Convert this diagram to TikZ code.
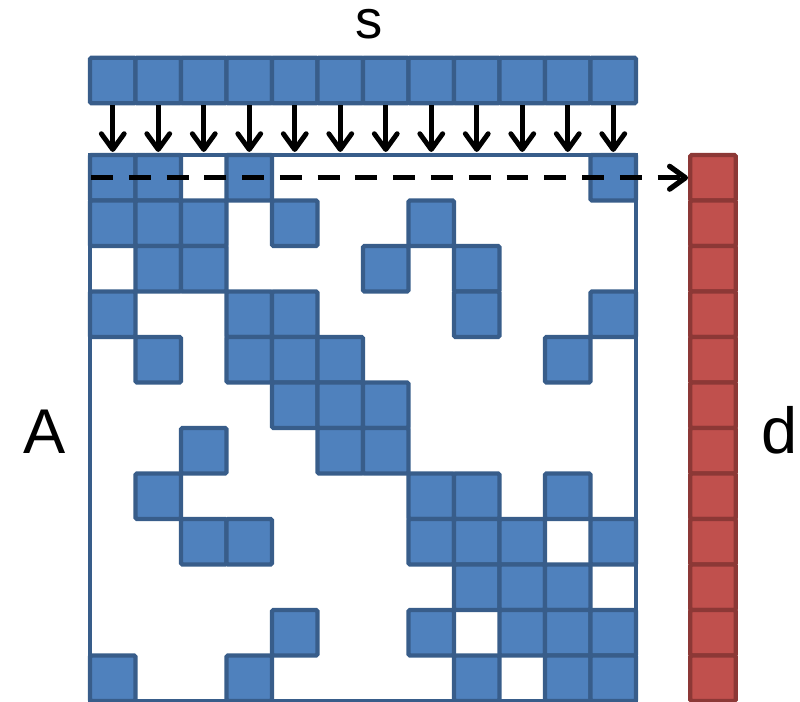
\documentclass[tikz,border=0pt]{standalone}
\usepackage{fontspec}
\setmainfont{Liberation Sans}
\usepackage{tikz}
\usetikzlibrary{positioning,arrows.meta}

\definecolor{cellblue}{HTML}{4F81BD}
\definecolor{lineblue}{HTML}{385D8A}
\definecolor{cellred}{HTML}{C0504D}
\definecolor{linered}{HTML}{8C3836}

\begin{document}
\begin{tikzpicture}[
    x=0.02cm, y=-0.02cm,
    cell/.style={rectangle, draw=lineblue, fill=cellblue, line width=2.5pt, minimum size=0.91cm, inner sep=0pt, rounded corners=0.8pt},
    dcell/.style={cell, draw=linered, fill=cellred},
    frame/.style={rectangle, draw=lineblue, line width=2.2pt, minimum size=10.92cm, inner sep=0pt},
    letter/.style={inner sep=0pt, anchor=base, font=\fontsize{36}{40}\selectfont},
    arrow/.style={-{Straight Barb[length=9pt, width=13pt, round]}, line width=2.8pt},
    dasharrow/.style={arrow, line width=3pt, dash pattern=on 12.5pt off 9pt}
]
\useasboundingbox (0,0) rectangle (800,702);

% sparse matrix A
\node[frame] (A) at (363,428) {};
\foreach \r/\cols in {0/{0,1,3,11}, 1/{0,1,2,4,7}, 2/{1,2,6,8}, 3/{0,3,4,8,11},
                      4/{1,3,4,5,10}, 5/{4,5,6}, 6/{2,5,6}, 7/{1,7,8,10},
                      8/{2,3,7,8,9,11}, 9/{8,9,10}, 10/{4,7,9,10,11}, 11/{0,3,8,10,11}}
  \foreach \c in \cols
    \node[cell] (a-\r-\c) at ({112.75+45.5*\c}, {177.75+45.5*\r}) {};

% vectors s and d
\foreach \i in {0,...,11} {
  \node[cell] (s-\i) at ({112.75+45.5*\i}, 80.5) {};
  \node[dcell] (d-\i) at (713, {177.75+45.5*\i}) {};
  \coordinate (top-\i) at ({112.75+45.5*\i}, 152);
}

\node[letter, font=\fontsize{31}{34}\selectfont] (lbl-s) at (369,39) {s};
\node[letter] (lbl-A) at (45,453) {A};
\node[letter, font=\fontsize{37}{40}\selectfont] (lbl-d) at (780,453) {d};

\foreach \i in {0,...,11}
  \draw[arrow] (s-\i) -- (top-\i);

\coordinate (row0) at (91,177.75);
\draw[dasharrow] (row0) -- (d-0.west);

\end{tikzpicture}
\end{document}
